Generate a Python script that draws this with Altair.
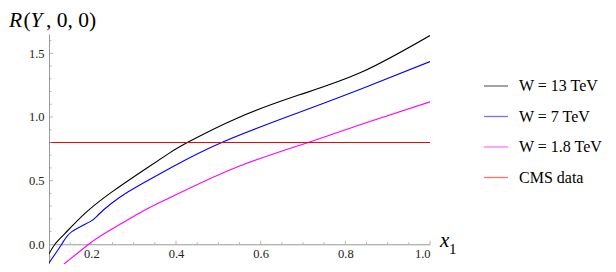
import altair as alt
import pandas as pd

# ---------------- data ----------------
x_13 = [0.1, 0.114, 0.138, 0.185, 0.248, 0.327, 0.386, 0.43, 0.543, 0.69, 0.84, 1.0]
y_13 = [-0.076, 0.0, 0.086, 0.243, 0.41, 0.59, 0.72, 0.805, 0.989, 1.172, 1.355, 1.64]

x_7 = [0.1, 0.13, 0.154, 0.197, 0.216, 0.248, 0.287, 0.327, 0.39, 0.512, 0.69, 0.84, 1.0]
y_7 = [-0.146, 0.0, 0.099, 0.178, 0.23, 0.322, 0.412, 0.49, 0.605, 0.805, 1.035, 1.224, 1.435]

x_18 = [0.121, 0.197, 0.248, 0.327, 0.394, 0.543, 0.712, 0.84, 1.0]
y_18 = [-0.195, 0.008, 0.118, 0.269, 0.379, 0.605, 0.8, 0.945, 1.119]

x_cms = [0.1, 1.0]
y_cms = [0.8, 0.8]

series_names = ["W = 13 TeV", "W = 7 TeV", "W = 1.8 TeV", "CMS data"]
series_colors = ["#000000", "#0000ff", "#ff00ff", "#ff0000"]

x_major = [0.2, 0.4, 0.6, 0.8, 1.0]
x_minor = [0.15, 0.25, 0.3, 0.35, 0.45, 0.5, 0.55, 0.65, 0.7, 0.75, 0.85, 0.9, 0.95]
y_major = [0.5, 1.0, 1.5]
y_minor = [-0.1, 0.1, 0.2, 0.3, 0.4, 0.6, 0.7, 0.8, 0.9, 1.1, 1.2, 1.3, 1.4, 1.6]
y_labels = [0.0, 0.5, 1.0, 1.5]

# ---------------- layout ----------------
W, H = 381, 230
X_DOM = [0.1, 1.0]
Y_DOM = [-0.155, 1.652]
FONT = "'Liberation Serif', 'Times New Roman', Times, serif"
AX = "#999999"

rows = []
for name, xs, ys in [(series_names[0], x_13, y_13), (series_names[1], x_7, y_7),
                     (series_names[2], x_18, y_18), (series_names[3], x_cms, y_cms)]:
    for xv, yv in zip(xs, ys):
        rows.append({"series": name, "x": xv, "y": yv})
df = pd.DataFrame(rows)

x_scale = alt.Scale(domain=X_DOM, nice=False, zero=False)
y_scale = alt.Scale(domain=Y_DOM, nice=False, zero=False)
x_off = -H * (0 - Y_DOM[0]) / (Y_DOM[1] - Y_DOM[0])

x_axis = alt.Axis(values=x_major, format=".1f", tickSize=0, domainColor=AX, domainWidth=1,
                  labelFont=FONT, labelFontSize=12.5, labelColor="#222222", labelPadding=3,
                  grid=False, offset=x_off, title=None)
y_axis = alt.Axis(values=y_labels, format=".1f", tickSize=0, domainColor=AX, domainWidth=1,
                  labelFont=FONT, labelFontSize=12.5, labelColor="#222222", labelPadding=5,
                  grid=False, title=None)


def X(f):
    return alt.X(f, type="quantitative", scale=x_scale, axis=x_axis, title=None)


def Y(f):
    return alt.Y(f, type="quantitative", scale=y_scale, axis=y_axis, title=None)


lines = alt.Chart(df).mark_line(strokeWidth=1.1, clip=True, interpolate="natural").encode(
    x=X("x"), y=Y("y"),
    color=alt.Color("series:N", sort=series_names,
                    scale=alt.Scale(domain=series_names, range=series_colors),
                    legend=alt.Legend(title=None, orient="none", legendX=434, legendY=39,
                                      symbolType="stroke", symbolSize=576, symbolStrokeWidth=1.3,
                                      symbolOpacity=0.55, labelFont=FONT, labelFontSize=16,
                                      labelColor="#000000", labelOffset=10, rowPadding=9.5,
                                      padding=0)),
    detail="series:N",
)

xt_major = pd.DataFrame({"x": x_major, "y0": [0.0] * len(x_major)})
xt_minor = pd.DataFrame({"x": x_minor, "y0": [0.0] * len(x_minor)})
yt_major = pd.DataFrame({"x0": [0.1] * len(y_major), "y": y_major})
yt_minor = pd.DataFrame({"x0": [0.1] * len(y_minor), "y": y_minor})

xtick_maj = alt.Chart(xt_major).mark_tick(orient="vertical", size=3.5, thickness=1,
                                          yOffset=-1.75, color=AX).encode(x=X("x"), y=Y("y0"))
xtick_min = alt.Chart(xt_minor).mark_tick(orient="vertical", size=2, thickness=1,
                                          yOffset=-1, color=AX).encode(x=X("x"), y=Y("y0"))
ytick_maj = alt.Chart(yt_major).mark_tick(orient="horizontal", size=4, thickness=1,
                                          xOffset=2, color=AX).encode(x=X("x0"), y=Y("y"))
ytick_min = alt.Chart(yt_minor).mark_tick(orient="horizontal", size=2.5, thickness=1,
                                          xOffset=1.25, color=AX).encode(x=X("x0"), y=Y("y"))


def label(text, x, y, size, style="normal"):
    return alt.Chart(pd.DataFrame({"t": [text]})).mark_text(
        font=FONT, fontSize=size, fontStyle=style, align="left", baseline="alphabetic",
        color="#000000").encode(text="t:N", x=alt.value(x), y=alt.value(y))


TS = 21.5
TY = -7
title_parts = [
    label("R", -40, TY, TS, "italic"),
    label("(", -25.5, TY, TS),
    label("Y", -18.5, TY, TS, "italic"),
    label(", 0, 0)", -3, TY, TS),
]
x1_parts = [
    label("x", 391, 213, 21, "italic"),
    label("1", 400, 220, 15),
]

chart = alt.layer(lines, xtick_maj, xtick_min, ytick_maj, ytick_min,
                  *title_parts, *x1_parts).properties(
    width=W, height=H,
    autosize=alt.AutoSizeParams(type="none"),
    padding={"left": 41, "top": 26, "right": 178, "bottom": 0},
).configure_view(strokeWidth=0)

chart.save("out.html", embed_options={"renderer": "svg", "actions": False})
